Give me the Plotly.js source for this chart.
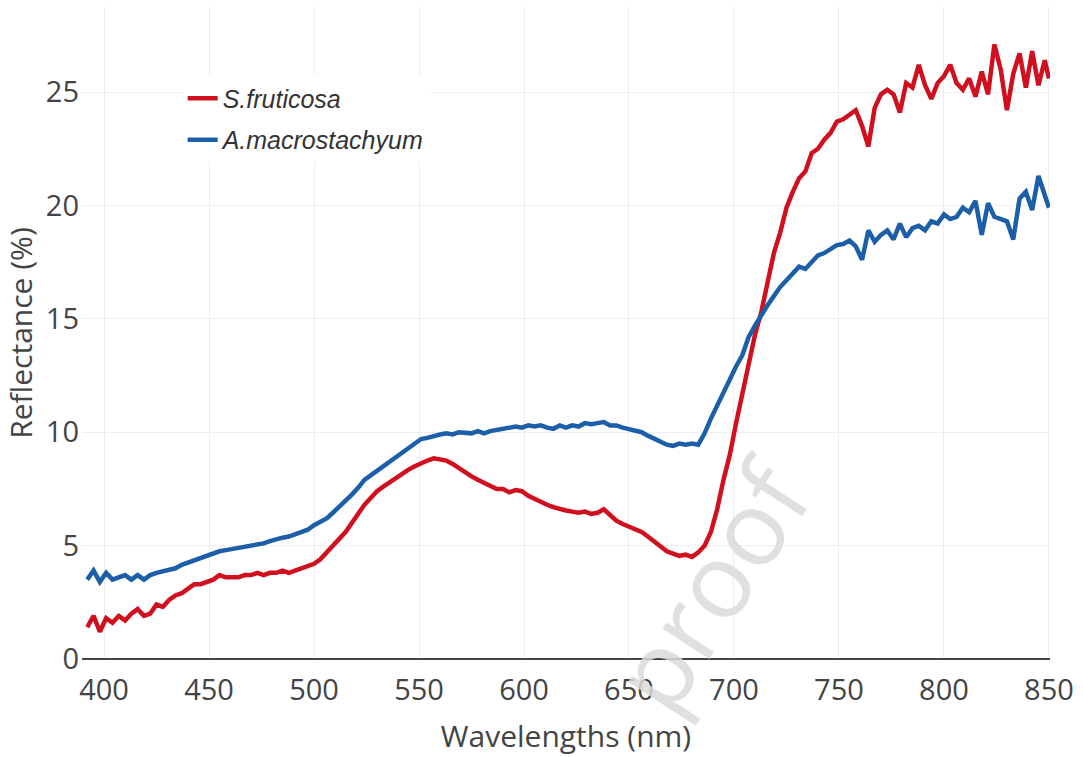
<!DOCTYPE html>
<html>
<head>
<meta charset="utf-8">
<script src="https://cdn.plot.ly/plotly-3.0.1.min.js"></script>
<style>html,body{margin:0;padding:0;background:#fff;}#chart{width:1083px;height:757px;}</style>
</head>
<body>
<div id="chart"></div>
<script>
const wavelengths = [392,395,398,401,404,407,410,413,416,419,422,425,428,431,434,437,440,443,446,449,452,455,458,461,464,467,470,473,476,479,482,485,488,491,494,497,500,503,506,509,512,515,518,521,524,527,530,533,536,539,542,545,548,551,554,557,560,563,566,569,572,575,578,581,584,587,590,593,596,599,602,605,608,611,614,617,620,623,626,629,632,635,638,641,644,647,650,653,656,659,662,665,668,671,674,677,680,683,686,689,692,695,698,701,704,707,710,713,716,719,722,725,728,731,734,737,740,743,746,749,752,755,758,761,764,767,770,773,776,779,782,785,788,791,794,797,800,803,806,809,812,815,818,821,824,827,830,833,836,839,842,845,848,850];

const sFruticosa = [1.4,1.9,1.2,1.8,1.6,1.9,1.7,2.0,2.2,1.9,
2.0,2.4,2.3,2.6,2.8,2.9,3.1,3.3,3.3,3.4,
3.5,3.7,3.6,3.6,3.6,3.7,3.7,3.8,3.7,3.8,
3.8,3.9,3.8,3.9,4.0,4.1,4.2,4.4,4.7,5.0,
5.3,5.6,6.0,6.4,6.8,7.1,7.4,7.6,7.8,8.0,
8.15,8.35,8.5,8.65,8.75,8.85,8.8,8.75,8.6,8.4,
8.25,8.05,7.9,7.75,7.6,7.5,7.5,7.35,7.45,7.4,
7.2,7.05,6.95,6.8,6.7,6.6,6.55,6.5,6.45,6.5,
6.4,6.45,6.6,6.35,6.1,5.95,5.85,5.75,5.6,5.4,
5.2,4.95,4.75,4.65,4.55,4.6,4.5,4.7,5.0,5.6,
6.6,7.9,9.0,10.4,11.6,13.0,14.3,15.3,16.6,17.9,
18.8,19.9,20.6,21.2,21.5,22.3,22.5,22.9,23.2,23.7,
23.8,24.0,24.2,23.5,22.6,24.3,24.9,25.1,24.9,24.1,
25.4,25.2,26.2,25.3,24.7,25.4,25.7,26.2,25.4,25.1,
25.6,24.8,25.9,24.9,27.1,26.0,24.2,25.8,26.7,25.2,
26.8,25.3,26.4,25.6];

const aMacrostachyum = [3.5,3.9,3.4,3.8,3.5,3.6,3.7,3.5,3.7,3.5,
3.7,3.8,3.85,3.9,4.0,4.15,4.25,4.35,4.5,4.6,
4.7,4.75,4.8,4.85,4.9,4.95,5.0,5.0,5.1,5.2,
5.3,5.35,5.4,5.5,5.6,5.7,5.9,6.05,6.2,6.45,
6.7,7.0,7.25,7.55,7.9,8.1,8.3,8.5,8.75,8.9,
9.1,9.35,9.55,9.7,9.75,9.85,9.9,9.95,9.9,10.0,
9.95,9.95,10.05,9.95,10.05,10.1,10.15,10.2,10.25,10.2,
10.3,10.25,10.3,10.2,10.15,10.3,10.2,10.3,10.25,10.4,
10.35,10.4,10.45,10.3,10.3,10.2,10.15,10.1,10.0,9.85,
9.7,9.6,9.45,9.4,9.5,9.45,9.5,9.45,9.95,10.6,
11.2,11.8,12.4,12.9,13.4,14.2,14.7,15.2,15.6,16.0,
16.4,16.7,17.0,17.3,17.2,17.5,17.8,17.9,18.1,18.25,
18.3,18.45,18.2,17.6,18.9,18.4,18.7,18.9,18.5,19.2,
18.6,19.0,19.1,18.9,19.3,19.2,19.6,19.4,19.5,19.9,
19.7,20.2,18.7,20.1,19.5,19.4,19.3,18.5,20.3,20.6,
19.8,21.3,20.5,19.9];

const seriesNames = ["S.fruticosa", "A.macrostachyum"];
const xTickVals = [400,450,500,550,600,650,700,750,800,850];
const yTickVals = [0,5,10,15,20,25];

const traces = [
  {x: wavelengths, y: sFruticosa, name: seriesNames[0], type: "scatter", mode: "lines",
   line: {color: "#d0101e", width: 4.5}, legendgroup: "a"},
  {x: wavelengths, y: aMacrostachyum, name: seriesNames[1], type: "scatter", mode: "lines",
   line: {color: "#1c5fa8", width: 4.5}, legendgroup: "b"}
];

const layout = {
  width: 1083, height: 757,
  margin: {l: 82, r: 33, t: 7, b: 98},
  paper_bgcolor: "#fff", plot_bgcolor: "#fff",
  font: {family: "Open Sans, sans-serif", color: "#444"},
  showlegend: true,
  legend: {
    x: 0.104, y: 0.895, xanchor: "left", yanchor: "top",
    bgcolor: "#fff", tracegroupgap: 6,
    font: {family: "Liberation Sans, Arial, sans-serif", size: 25, color: "#333", style: "italic"}
  },
  xaxis: {
    range: [389.5, 850.5], tickvals: xTickVals, ticktext: xTickVals.map(String),
    showgrid: true, gridcolor: "#eeeeee", gridwidth: 1,
    zeroline: false, showline: false, ticks: "", ticklabelstandoff: 11,
    tickfont: {size: 29, color: "#444"},
    title: {text: "Wavelengths (nm)", font: {size: 30, color: "#444"}, standoff: 18}
  },
  yaxis: {
    range: [0, 28.75], tickvals: yTickVals, ticktext: yTickVals.map(String),
    showgrid: true, gridcolor: "#eeeeee", gridwidth: 1,
    zeroline: true, zerolinecolor: "#444", zerolinewidth: 2,
    ticks: "", tickfont: {size: 29, color: "#444"}, ticklabelstandoff: 2,
    title: {text: "Reflectance (%)", font: {size: 30, color: "#444"}, standoff: 6}
  },
  annotations: [
    {text: "proof", xref: "paper", yref: "paper", x: 0.648, y: 0.115, xanchor: "center", yanchor: "middle",
     showarrow: false, textangle: -57,
     font: {family: "Open Sans, sans-serif", size: 104, color: "rgba(218,218,218,0.85)"}}
  ]
};

Plotly.newPlot("chart", traces, layout, {displayModeBar: false, staticPlot: true});
</script>
</body>
</html>
